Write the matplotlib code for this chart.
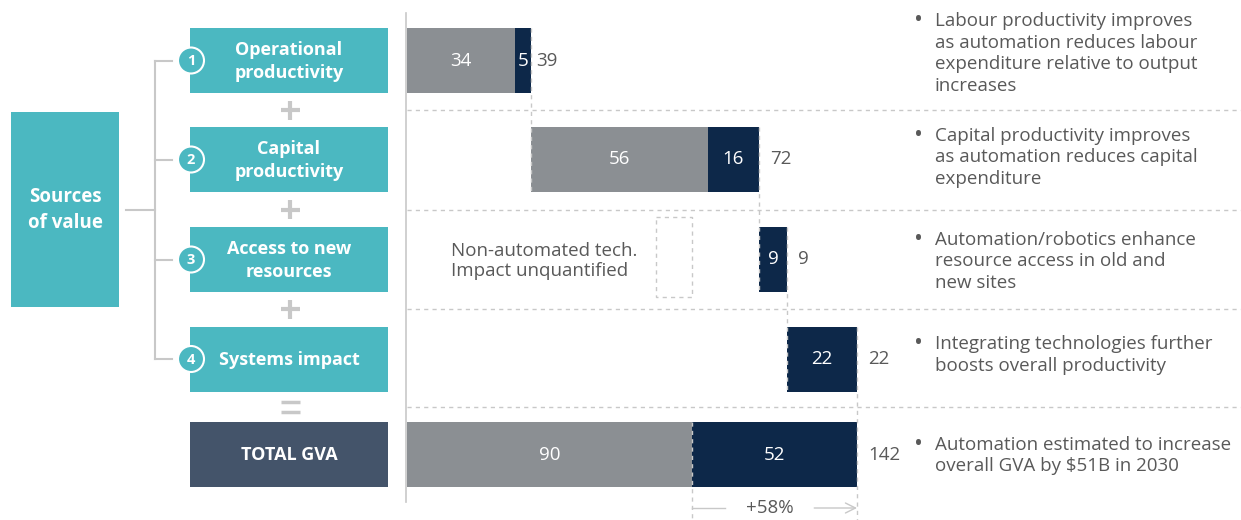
import matplotlib
matplotlib.use("Agg")
import matplotlib.pyplot as plt
from matplotlib.patches import Rectangle, Circle

plt.rcParams['font.family'] = ['Open Sans', 'DejaVu Sans']

# ---- data ----
levers = ['Operational\nproductivity', 'Capital\nproductivity',
          'Access to new\nresources', 'Systems impact']
non_auto = [34, 56, 0, 0]   # grey part (without automation)
auto = [5, 16, 9, 22]       # navy part (automation)
notes = [
    ['Labour productivity improves', 'as automation reduces labour',
     'expenditure relative to output', 'increases'],
    ['Capital productivity improves', 'as automation reduces capital', 'expenditure'],
    ['Automation/robotics enhance', 'resource access in old and', 'new sites'],
    ['Integrating technologies further', 'boosts overall productivity'],
    ['Automation estimated to increase', 'overall GVA by $51B in 2030'],
]
side_title = 'Sources\nof value'
total_title = 'TOTAL GVA'
unquantified = 'Non-automated tech.\nImpact unquantified'
uplift = '+58%'

# ---- style ----
TEAL = '#4bb8c1'
SLATE = '#44546a'
GREY = '#8b8f93'
NAVY = '#0d2849'
LINE = '#c8c8c8'
TXT = '#595959'

W, H = 1241, 520
X0 = 407                 # pixel where value 0 sits
PPU = 450 / 142          # pixels per unit
row_y = [60.5, 159.5, 259.5, 359, 454.5]
note_shift = [-7, -2, 2, -4, 1]
bar_h = 65
dash = (0, (3, 3))
FS = 13.5

fig = plt.figure(figsize=(W / 100, H / 100), dpi=100)
bg = fig.add_axes([0, 0, 1, 1])
bg.set_xlim(0, W)
bg.set_ylim(H, 0)
bg.axis('off')

ax = fig.add_axes([X0 / W, 0, 1 - X0 / W, 1])
ax.set_xlim(0, (W - X0) / PPU)
ax.set_ylim(H, 0)
ax.axis('off')
ax.patch.set_alpha(0)

# ---- left diagram ----
bg.add_patch(Rectangle((11, 112), 108, 195, color=TEAL, lw=0))
bg.text(65, 210, side_title, color='white', fontsize=13.5, fontweight='bold',
        ha='center', va='center', linespacing=1.35)

bg.plot([155, 155], [row_y[0], row_y[3]], color=LINE, lw=1.5)
bg.plot([126, 155], [209.5, 209.5], color=LINE, lw=1.5)
for i, name in enumerate(levers):
    y = row_y[i]
    bg.plot([155, 172], [y, y], color=LINE, lw=1.5)
    bg.add_patch(Rectangle((190, y - bar_h / 2), 198, bar_h, color=TEAL, lw=0))
    bg.text(289, y + 1, name, color='white', fontsize=13, fontweight='bold',
            ha='center', va='center', linespacing=1.38)
    bg.add_patch(Circle((191, y), 13, fc=TEAL, ec='white', lw=1.5, zorder=4))
    bg.text(191, y + 0.5, str(i + 1), color='white', fontsize=10.5, fontweight='bold',
            ha='center', va='center', zorder=5)

bg.add_patch(Rectangle((190, row_y[4] - bar_h / 2), 198, bar_h, color=SLATE, lw=0))
bg.text(289, row_y[4] + 1, total_title, color='white', fontsize=13, fontweight='bold',
        ha='center', va='center')

mids = [(row_y[i] + row_y[i + 1]) / 2 for i in range(4)]
for i, m in enumerate(mids):
    if i < 3:
        bg.plot([280.5, 299.5], [m, m], color=LINE, lw=3, solid_capstyle='butt')
        bg.plot([290, 290], [m - 9.5, m + 9.5], color=LINE, lw=3, solid_capstyle='butt')
    else:
        for d in (-5, 5):
            bg.plot([280.5, 299.5], [m + d, m + d], color=LINE, lw=2.5, solid_capstyle='butt')

# axis line
bg.plot([406, 406], [13, 502], color=LINE, lw=1.2)

# ---- waterfall ----
for m in mids:
    ax.plot([0, ax.get_xlim()[1]], [m, m], color=LINE, lw=1, ls=dash)

off = 11 / PPU
left = 0
ends = []
for i in range(4):
    y = row_y[i]
    g, n = non_auto[i], auto[i]
    if g:
        ax.barh(y, g, left=left, height=bar_h, color=GREY, lw=0)
        ax.text(left + g / 2, y, str(g), color='white', fontsize=FS,
                ha='center', va='center')
    ax.barh(y, n, left=left + g, height=bar_h, color=NAVY, lw=0)
    ax.text(left + g + n / 2, y, str(n), color='white', fontsize=FS,
            ha='center', va='center')
    left += g + n
    ends.append(left)
    ax.text(left + (6 / PPU if i == 0 else off), y, str(g + n), color=TXT, fontsize=FS,
            ha='left', va='center')

tot_g, tot_n = sum(non_auto), sum(auto)
yt = row_y[4]
ax.barh(yt, tot_g, height=bar_h, color=GREY, lw=0)
ax.barh(yt, tot_n, left=tot_g, height=bar_h, color=NAVY, lw=0)
ax.text(tot_g / 2, yt, str(tot_g), color='white', fontsize=FS, ha='center', va='center')
ax.text(tot_g + tot_n / 2, yt, str(tot_n), color='white', fontsize=FS,
        ha='center', va='center')
ax.text(tot_g + tot_n + off, yt, str(tot_g + tot_n), color=TXT, fontsize=FS,
        ha='left', va='center')

# connectors
for i, x in enumerate(ends):
    y_top = row_y[i] - bar_h / 2
    y_bot = row_y[i + 1] + bar_h / 2 if i < 3 else H
    ax.plot([x, x], [y_top, y_bot], color=LINE, lw=1, ls=dash, zorder=4)
ax.plot([tot_g, tot_g], [yt - bar_h / 2, H], color=LINE, lw=1, ls=dash, zorder=4)

# unquantified placeholder
ax.add_patch(Rectangle((78.5, 217), tot_g - 78.5, 80, fill=False, ec=LINE, lw=1, ls=dash))
ax.text(14, row_y[2] + 1.5, unquantified, color=TXT, fontsize=FS,
        ha='left', va='center', linespacing=1.15)

# uplift arrow
ya = 508
xc = tot_g + tot_n / 2 - 1.5
ax.text(xc, ya, uplift, color=TXT, fontsize=FS, ha='center', va='center')
ax.plot([tot_g, xc - 14], [ya, ya], color=LINE, lw=1)
ax.annotate('', xy=(tot_g + tot_n, ya), xytext=(xc + 14, ya),
            arrowprops=dict(arrowstyle='->', color=LINE, lw=1, mutation_scale=18,
                            shrinkA=0, shrinkB=0))

# ---- notes ----
lh = 21.5
for i, lines in enumerate(notes):
    n = len(lines)
    y0 = row_y[i] + note_shift[i] - (n - 1) / 2 * lh
    for k, line in enumerate(lines):
        bg.text(935, y0 + k * lh, line, color=TXT, fontsize=FS, ha='left', va='center')
    bg.text(918, y0, '•', color=TXT, fontsize=17, ha='center', va='center')

fig.savefig('out.png', dpi=100)
